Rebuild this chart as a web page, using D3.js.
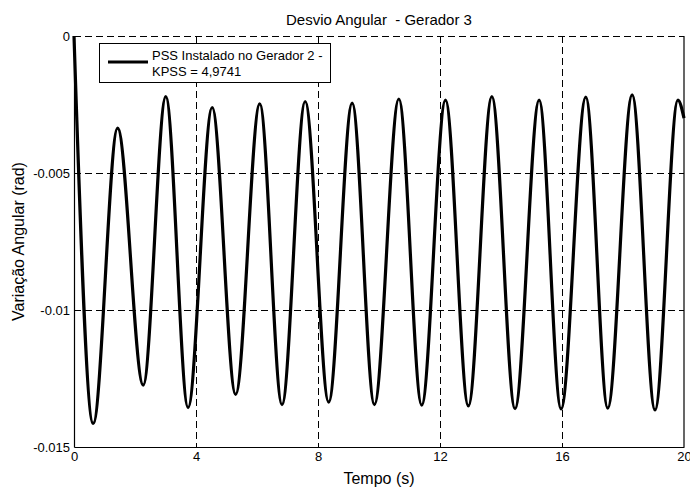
<!DOCTYPE html>
<html>
<head>
<meta charset="utf-8">
<script src="https://cdn.jsdelivr.net/npm/d3@7"></script>
<style>
  body { margin: 0; background: #fff; }
  text { font-family: "Liberation Sans", Arial, sans-serif; fill: #000; }
</style>
</head>
<body>
<div id="chart"></div>
<script>
// extrema of the response (time in s, value in rad)
var times  = [ 0, 0.63, 1.43, 2.27, 3.01, 3.74, 4.53, 5.30, 6.09, 6.82, 7.58, 8.35, 9.12, 9.85,
               10.65, 11.40, 12.18, 12.93, 13.70, 14.46, 15.25, 15.97, 16.78, 17.50, 18.30, 19.05, 19.80, 20 ];
var values = [ 0, -0.01414, -0.00336, -0.01274, -0.00221, -0.01356, -0.00261, -0.01308, -0.00248, -0.01345,
               -0.00239, -0.01336, -0.00245, -0.01345, -0.00230, -0.01347, -0.00234, -0.01350, -0.00221,
               -0.01360, -0.00234, -0.01361, -0.00223, -0.01358, -0.00215, -0.01365, -0.00234, -0.00300 ];

var xTicks = [ 0, 4, 8, 12, 16, 20 ];
var yTicks = [ 0, -0.005, -0.01, -0.015 ];
var yTickLabels = [ "0", "-0.005", "-0.01", "-0.015" ];

var legendLines = [ "PSS Instalado no Gerador 2 -", "KPSS = 4,9741" ];

var width = 690, height = 487;
var margin = { left: 74, right: 6, top: 36, bottom: 40 };

var svg = d3.select( "#chart" )
  .append( "svg" )
  .attr( "width", width )
  .attr( "height", height );

var x = d3.scaleLinear().domain( [ 0, 20 ] ).range( [ margin.left, width - margin.right ] );
var y = d3.scaleLinear().domain( [ -0.015, 0 ] ).range( [ height - margin.bottom, margin.top ] );

// grid (dashed, MATLAB style)
svg.append( "g" )
  .selectAll( "line" )
  .data( xTicks.slice( 1, -1 ) )
  .enter()
  .append( "line" )
  .attr( "x1", d => Math.round( x( d ) ) + 0.5 ).attr( "x2", d => Math.round( x( d ) ) + 0.5 )
  .attr( "y1", y( 0 ) ).attr( "y2", y( -0.015 ) )
  .attr( "stroke", "#000" )
  .attr( "stroke-width", 1 )
  .attr( "shape-rendering", "crispEdges" )
  .attr( "stroke-dasharray", "7,4" );

svg.append( "g" )
  .selectAll( "line" )
  .data( yTicks.slice( 0, -1 ) )
  .enter()
  .append( "line" )
  .attr( "x1", x( 0 ) ).attr( "x2", x( 20 ) )
  .attr( "y1", d => Math.round( y( d ) ) + 0.5 ).attr( "y2", d => Math.round( y( d ) ) + 0.5 )
  .attr( "stroke", "#000" )
  .attr( "stroke-width", 1 )
  .attr( "shape-rendering", "crispEdges" )
  .attr( "stroke-dasharray", "7,4" );

// axes
var xAxis = svg.append( "g" )
  .attr( "transform", "translate(0," + y( -0.015 ) + ")" )
  .call( d3.axisBottom( x ).tickValues( xTicks ).tickSize( 0 ).tickPadding( 5 ) );
xAxis.select( ".domain" ).attr( "stroke-width", 1.2 );
xAxis.selectAll( "text" ).attr( "font-size", 13 ).attr( "font-family", "Liberation Sans, Arial, sans-serif" );

var yAxis = svg.append( "g" )
  .attr( "transform", "translate(" + x( 0 ) + ",0)" )
  .call( d3.axisLeft( y ).tickValues( yTicks ).tickFormat( ( d, i ) => yTickLabels[ i ] ).tickSize( 0 ).tickPadding( 4 ) );
yAxis.select( ".domain" ).attr( "stroke-width", 1.2 );
yAxis.selectAll( "text" ).attr( "font-size", 13 ).attr( "font-family", "Liberation Sans, Arial, sans-serif" );

// right border
svg.append( "line" )
  .attr( "x1", x( 20 ) ).attr( "x2", x( 20 ) )
  .attr( "y1", y( 0 ) ).attr( "y2", y( -0.015 ) )
  .attr( "stroke", "#000" )
  .attr( "stroke-width", 1.2 );

// signal
var line = d3.line()
  .x( ( d, i ) => x( times[ i ] ) )
  .y( d => y( d ) )
  .curve( d3.curveMonotoneX );

svg.append( "path" )
  .datum( values )
  .attr( "d", line )
  .attr( "fill", "none" )
  .attr( "stroke", "#000" )
  .attr( "stroke-width", 3.2 )
  .attr( "stroke-linejoin", "round" );

// legend
var lg = svg.append( "g" );
lg.append( "rect" )
  .attr( "x", 99.5 ).attr( "y", 43.5 )
  .attr( "width", 231 ).attr( "height", 39 )
  .attr( "fill", "#fff" )
  .attr( "stroke", "#000" )
  .attr( "stroke-width", 1 );
lg.append( "line" )
  .attr( "x1", 108 ).attr( "x2", 148 )
  .attr( "y1", 62 ).attr( "y2", 62 )
  .attr( "stroke", "#000" )
  .attr( "stroke-width", 3.2 );
lg.selectAll( "text.leg" )
  .data( legendLines )
  .enter()
  .append( "text" )
  .attr( "class", "leg" )
  .attr( "x", 152 )
  .attr( "y", ( d, i ) => 60 + i * 16 )
  .attr( "font-size", 13 )
  .text( d => d );

// titles
svg.append( "text" )
  .attr( "x", ( x( 0 ) + x( 20 ) ) / 2 )
  .attr( "y", 25 )
  .attr( "text-anchor", "middle" )
  .attr( "font-size", 15 )
  .style( "white-space", "pre" )
  .text( "Desvio Angular  - Gerador 3" );

svg.append( "text" )
  .attr( "x", ( x( 0 ) + x( 20 ) ) / 2 )
  .attr( "y", 484 )
  .attr( "text-anchor", "middle" )
  .attr( "font-size", 16 )
  .text( "Tempo (s)" );

svg.append( "text" )
  .attr( "transform", "translate(24," + ( ( y( 0 ) + y( -0.015 ) ) / 2 ) + ") rotate(-90)" )
  .attr( "text-anchor", "middle" )
  .attr( "font-size", 16 )
  .text( "Variação Angular (rad)" );
</script>
</body>
</html>
